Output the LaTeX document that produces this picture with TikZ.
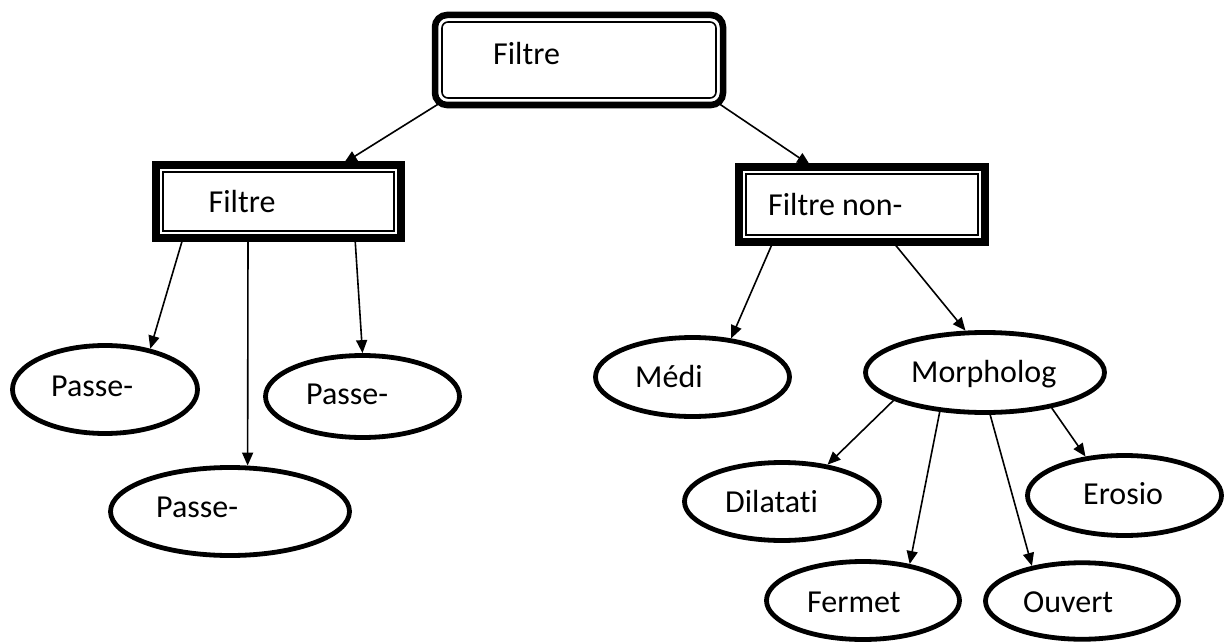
\documentclass[tikz,border=0pt]{standalone}
\usepackage{fontspec}
\setmainfont{Carlito}[Ligatures=NoCommon]
\usetikzlibrary{arrows.meta,shapes.geometric}
\pgfdeclarelayer{back}
\pgfsetlayers{back,main}
\begin{document}
\begin{tikzpicture}[x=1pt,y=-1pt,
  framebox/.style={draw, rectangle, outer sep=0pt, inner sep=0pt, line width=#1},
  oval/.style={draw, ellipse, inner sep=0pt, line width=4.8pt},
  lbl/.style={inner sep=0pt, anchor=base west, font=\fontsize{32}{38}\selectfont},
  link/.style={line width=1.6pt, -{Triangle[length=13pt,width=11pt]}},
  innerline/.style={line width=1.6pt}]
\useasboundingbox (0,0) rectangle (1227,642);

% boxes with a heavy frame and a thin inner rule
\node[framebox=6.5pt, rounded corners=12pt, minimum width=288pt, minimum height=90pt] (root) at (579,60) {};
\draw[innerline, rounded corners=6pt] ([xshift=7pt,yshift=-7pt]root.north west) rectangle ([xshift=-7pt,yshift=7pt]root.south east);
\node[framebox=8pt, minimum width=245pt, minimum height=73pt] (lin) at (278.5,201.5) {};
\draw[innerline] ([xshift=7pt,yshift=-7pt]lin.north west) rectangle ([xshift=-7pt,yshift=7pt]lin.south east);
\node[framebox=7.5pt, minimum width=246pt, minimum height=75pt] (nlin) at (862,204.5) {};
\draw[innerline] ([xshift=7pt,yshift=-7pt]nlin.north west) rectangle ([xshift=-7pt,yshift=7pt]nlin.south east);

% leaves
\node[oval, minimum width=185pt, minimum height=88pt] (pb1) at (105,389.5) {};
\node[oval, minimum width=194pt, minimum height=82pt] (pb2) at (362.5,396.5) {};
\node[oval, minimum width=239pt, minimum height=88pt] (pb3) at (230,511.5) {};
\node[oval, minimum width=194pt, minimum height=79pt] (med) at (692.5,377) {};
\node[oval, minimum width=239pt, minimum height=80pt] (mor) at (985,372.5) {};
\node[oval, minimum width=195pt, minimum height=78pt] (dil) at (782,501.5) {};
\node[oval, minimum width=193pt, minimum height=78pt] (fer) at (863,600.5) {};
\node[oval, minimum width=193pt, minimum height=76.5pt] (ouv) at (1082,601) {};
\node[oval, minimum width=194pt, minimum height=80pt] (ero) at (1124.5,495.5) {};

% labels
\node[lbl] (troot) at (493,65) {Filtre};
\node[lbl] (tlin) at (208.5,212) {Filtre};
\node[lbl] (tnlin) at (768,215) {Filtre non-};
\node[lbl] (tpb1) at (51,396) {Passe-};
\node[lbl] (tpb2) at (306,404) {Passe-};
\node[lbl] (tpb3) at (156,517) {Passe-};
\node[lbl] (tmed) at (635,387) {Médi};
\node[lbl] (tmor) at (911,382) {Morpholog};
\node[lbl] (tdil) at (725,512) {Dilatati};
\node[lbl] (tfer) at (807,612) {Fermet};
\node[lbl] (touv) at (1023,612) {Ouvert};
\node[lbl] (tero) at (1083,504) {Erosio};

% connectors, kept under the frames
\begin{pgfonlayer}{back}
\draw[link] ([xshift=5pt,yshift=2pt]root.south west) -- ([xshift=65.5pt,yshift=2pt]lin.north);
\draw[link] ([xshift=-5pt,yshift=2pt]root.south east) -- ([xshift=-52pt,yshift=2pt]nlin.north);
\draw[link] ([xshift=-95.5pt]lin.south) -- (pb1.42.7);
\draw[link] ([xshift=-30.5pt]lin.south) -- (pb3.69.9);
\draw[link] ([xshift=76.5pt]lin.south) -- (pb2.90);
\draw[link] ([xshift=-89pt]nlin.south) -- (med.45.3);
\draw[link] ([xshift=31pt]nlin.south) -- (mor.115.2);
\draw[link] (mor.-163.1) -- (dil.39.2);
\draw[link] (mor.-139.25) -- (fer.38.6);
\draw[link] (mor.-83.3) -- (ouv.145.3);
\draw[link] (mor.-28.2) -- (ero.135.7);
\end{pgfonlayer}
\end{tikzpicture}
\end{document}
